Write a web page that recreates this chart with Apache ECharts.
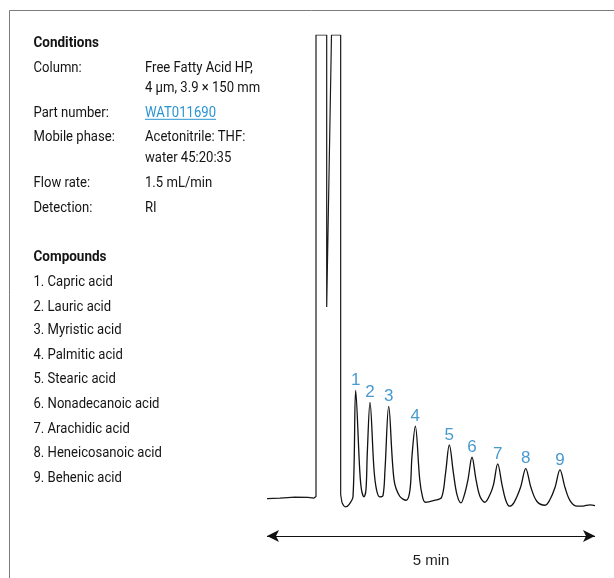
<!DOCTYPE html>
<html>
<head>
<meta charset="utf-8">
<script src="https://cdn.jsdelivr.net/npm/echarts@6/dist/echarts.min.js"></script>
<style>
html,body{margin:0;padding:0;background:#fff;}
#chart{width:614px;height:578px;}
</style>
</head>
<body>
<div id="chart"></div>
<script>
// ---- Data (time in minutes, detector signal in arbitrary units) ----
const solventTime   = [0, 0.198, 0.427, 0.625, 0.716, 0.747, 0.747, 0.910, 0.910, 0.983, 1.123, 1.123, 1.143];
const solventSignal = [2.32, 2.42, 2.63, 2.57, 2.42, 2.74, 100, 100, 42.7, 100, 100, 3.16, 1.47];

const peaksTime   = [1.143, 1.194, 1.25, 1.311, 1.352, 1.413, 1.44, 1.479, 1.509, 1.529, 1.570, 1.631, 1.669, 1.718, 1.768, 1.799, 1.855, 1.936, 2.023, 2.123, 2.180, 2.210, 2.261, 2.328, 2.370, 2.413, 2.556, 2.66, 2.721, 2.779, 2.843, 2.896, 2.957, 3.01, 3.064, 3.125, 3.186, 3.247, 3.323, 3.399, 3.453, 3.517, 3.582, 3.636, 3.694, 3.765, 3.864, 3.944, 4.024, 4.116, 4.238, 4.314, 4.390, 4.466, 4.543, 4.619, 4.726, 4.817, 4.924, 5.0];
const peaksSignal = [1.47, 0.57, 1.05, 2.74, 25.13, 8.43, 4.21, 2.68, 4.21, 11.94, 22.6, 8.43, 4.21, 2.68, 2.95, 8.43, 21.76, 6.32, 2.80, 1.96, 4.21, 11.23, 17.55, 6.32, 2.74, 1.54, 1.96, 2.53, 7.58, 13.63, 7.58, 3.16, 1.41, 3.16, 6.32, 11.02, 6.32, 2.74, 1.54, 3.16, 5.27, 9.63, 5.27, 2.11, 0.70, 1.47, 4.63, 8.64, 4.63, 1.69, 0.91, 2.11, 4.63, 8.36, 4.63, 1.90, 0.70, 0.74, 0.99, 0.84];

const peakLabels = ['1', '2', '3', '4', '5', '6', '7', '8', '9'];
const peakApexTime   = [1.352, 1.570, 1.855, 2.261, 2.779, 3.125, 3.517, 3.944, 4.466];
const peakApexSignal = [25.13, 22.6, 21.76, 17.55, 13.63, 11.02, 9.63, 8.64, 8.36];

const spanMinutes = [0, 5];
const spanLabel = '5 min';

const conditionsTitle = 'Conditions';
const conditionKeys = ['Column:', '', 'Part number:', 'Mobile phase:', '', 'Flow rate:', 'Detection:'];
const conditionValues = ['Free Fatty Acid HP,', '4 µm, 3.9 × 150 mm', 'WAT011690', 'Acetonitrile: THF:', 'water 45:20:35', '1.5 mL/min', 'RI'];
const compoundsTitle = 'Compounds';
const compounds = ['1. Capric acid', '2. Lauric acid', '3. Myristic acid', '4. Palmitic acid', '5. Stearic acid', '6. Nonadecanoic acid', '7. Arachidic acid', '8. Heneicosanoic acid', '9. Behenic acid'];

// ---- Layout / style ----
const TEXT_FONT = 'Roboto';
const TEXT_SIZE = 14.5;
const TEXT_COLOR = '#141414';
const BLUE = '#1a80c2';
const LINK_BLUE = '#2a94d2';

const mctx = document.createElement('canvas').getContext('2d');
mctx.font = TEXT_SIZE + 'px ' + TEXT_FONT;
const sx = 126 / mctx.measureText('6. Nonadecanoic acid').width;
mctx.font = 'bold ' + TEXT_SIZE + 'px ' + TEXT_FONT;
const sxB = 73 / mctx.measureText('Compounds').width;

function txt(str, x, y, opts) {
  opts = opts || {};
  return {
    type: 'text', x: x, y: y, scaleX: opts.bold ? sxB : sx, silent: true,
    style: {
      text: str, x: 0, y: 0, fill: opts.color || TEXT_COLOR,
      font: (opts.bold ? 'bold ' : '') + TEXT_SIZE + 'px ' + TEXT_FONT,
      textAlign: 'left', textVerticalAlign: 'middle'
    }
  };
}

const condRowY = [68.8, 88.8, 113, 137.6, 158.6, 183, 208.6];
const compRowY = [282, 307, 330.7, 355.3, 379.5, 404.3, 429.1, 453.1, 477.9];
const graphics = [];
graphics.push({ type: 'line', silent: true, shape: { x1: 9.5, y1: 10.5, x2: 614, y2: 10.5 }, style: { stroke: '#7c7c7c', lineWidth: 1 } });
graphics.push({ type: 'line', silent: true, shape: { x1: 9.5, y1: 10.5, x2: 9.5, y2: 578 }, style: { stroke: '#7c7c7c', lineWidth: 1 } });
graphics.push(txt(conditionsTitle, 33.5, 43.2, { bold: true }));
conditionKeys.forEach((k, i) => { if (k) graphics.push(txt(k, 33.5, condRowY[i])); });
conditionValues.forEach((v, i) => {
  const isLink = v === 'WAT011690';
  graphics.push(txt(v, 145, condRowY[i], isLink ? { color: LINK_BLUE } : {}));
  if (isLink) {
    mctx.font = TEXT_SIZE + 'px ' + TEXT_FONT;
    const w = mctx.measureText(v).width * sx;
    graphics.push({ type: 'line', silent: true, shape: { x1: 145, y1: 119.3, x2: 145 + w, y2: 119.3 }, style: { stroke: LINK_BLUE, lineWidth: 1 } });
  }
});
graphics.push(txt(compoundsTitle, 33.5, 257, { bold: true }));
compounds.forEach((c, i) => graphics.push(txt(c, 33.5, compRowY[i])));

const chart = echarts.init(document.getElementById('chart'), null, { renderer: 'canvas' });
chart.setOption({
  animation: false,
  backgroundColor: '#fff',
  grid: { left: 267, right: 19, top: 35, bottom: 21, containLabel: false },
  xAxis: { type: 'value', min: 0, max: 5, show: false },
  yAxis: { type: 'value', min: -10, max: 100, show: false },
  graphic: graphics,
  series: [
    {
      name: 'solvent', type: 'line', symbol: 'none', smooth: false, silent: true,
      lineStyle: { color: '#1a1a1a', width: 1.2 },
      data: solventTime.map((t, i) => [t, solventSignal[i]])
    },
    {
      name: 'peaks', type: 'line', symbol: 'none', smooth: 0.35, silent: true, clip: false,
      lineStyle: { color: '#111', width: 1.3 },
      data: peaksTime.map((t, i) => [t, peaksSignal[i]]),
      markLine: {
        silent: true, symbol: ['arrow', 'arrow'], symbolSize: [9, 12],
        lineStyle: { color: '#111', width: 1.2, type: 'solid' },
        label: { show: true, position: 'insideMiddleBottom', formatter: spanLabel, distance: 17,
                 color: '#1e1e1e', fontSize: 15, fontFamily: 'Liberation Sans' },
        emphasis: { disabled: true },
        data: [[{ coord: [spanMinutes[0], -5.6] }, { coord: [spanMinutes[1], -5.6] }]]
      }
    },
    {
      name: 'labels', type: 'scatter', symbolSize: 1, silent: true,
      itemStyle: { color: 'rgba(0,0,0,0)' },
      label: { show: true, position: 'top', distance: 1, formatter: '{b}', color: BLUE,
               fontSize: 17, fontFamily: 'Liberation Sans' },
      data: peakApexTime.map((t, i) => ({ name: peakLabels[i], value: [t, peakApexSignal[i]] }))
    }
  ]
});
</script>
</body>
</html>
